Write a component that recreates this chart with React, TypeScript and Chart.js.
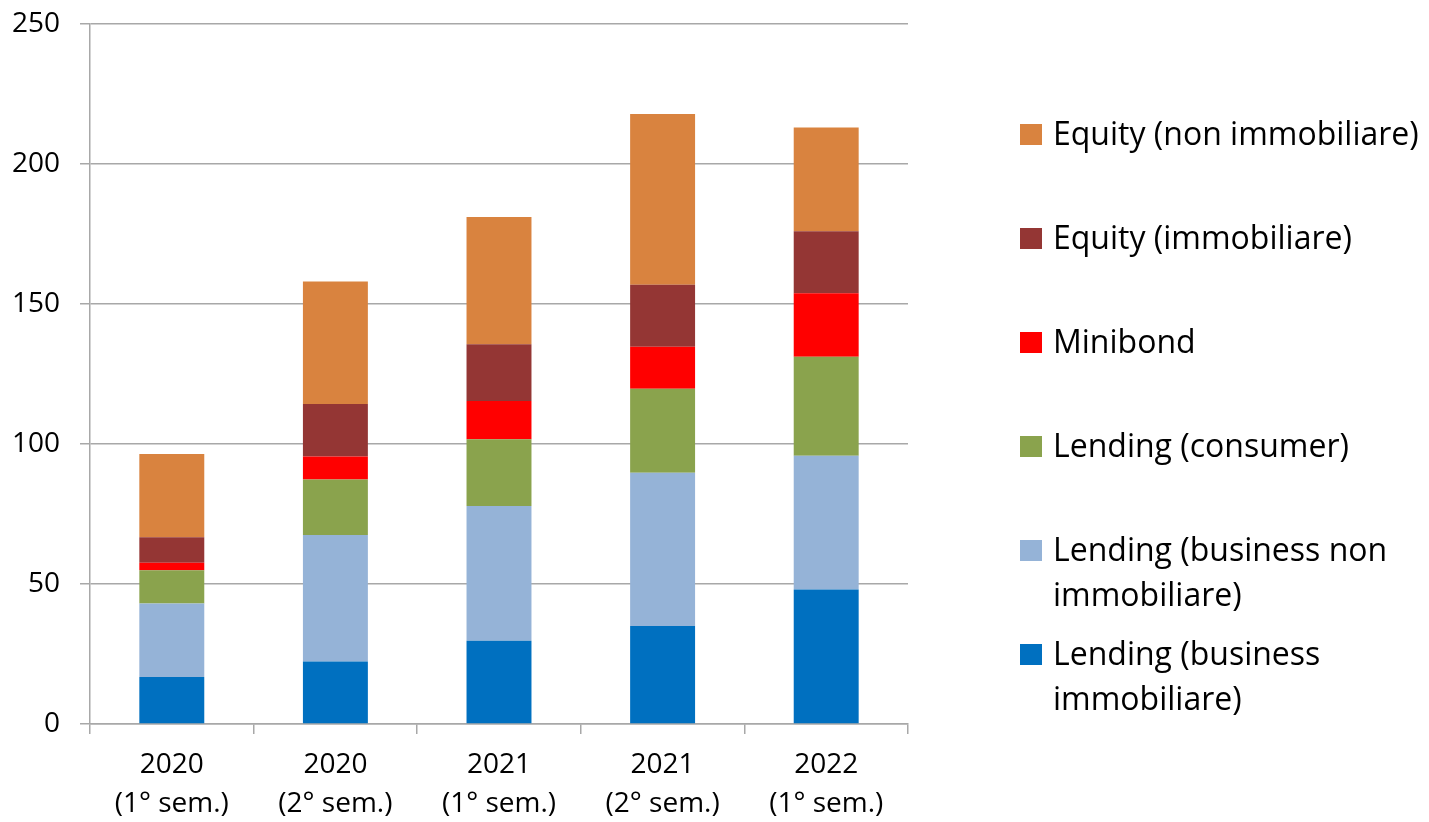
import React, { useEffect, useRef } from "react";
import { Chart, registerables } from "chart.js";

Chart.register(...registerables);

// ---- data ----
const categories: string[][] = [
  ["2020", "(1° sem.)"],
  ["2020", "(2° sem.)"],
  ["2021", "(1° sem.)"],
  ["2021", "(2° sem.)"],
  ["2022", "(1° sem.)"],
];

const lendingBusinessImmobiliare = [16.8, 22.3, 29.7, 35.0, 48.0];
const lendingBusinessNonImmobiliare = [26.2, 45.2, 48.2, 54.7, 47.8];
const lendingConsumer = [11.9, 19.8, 23.8, 30.0, 35.4];
const minibond = [2.7, 8.2, 13.7, 15.0, 22.6];
const equityImmobiliare = [9.1, 18.8, 20.2, 22.2, 22.2];
const equityNonImmobiliare = [29.7, 43.7, 45.5, 61.0, 37.0];

const seriesLabels: string[][] = [
  ["Lending (business", "immobiliare)"],
  ["Lending (business non", "immobiliare)"],
  ["Lending (consumer)"],
  ["Minibond"],
  ["Equity (immobiliare)"],
  ["Equity (non immobiliare)"],
];

const seriesValues = [
  lendingBusinessImmobiliare,
  lendingBusinessNonImmobiliare,
  lendingConsumer,
  minibond,
  equityImmobiliare,
  equityNonImmobiliare,
];

const seriesColors = ["#0070C0", "#95B3D7", "#8AA34D", "#FF0000", "#943634", "#D9833F"];

const yTicks = [0, 50, 100, 150, 200, 250];

const FONT = '"Open Sans", "Noto Sans", sans-serif';
const GRID = "#a8a8a8";

const sideLegend = {
  id: "sideLegend",
  afterDraw(chart: any) {
    const { ctx, chartArea } = chart;
    const ds = chart.data.datasets;
    ctx.save();
    ctx.font = `32px ${FONT}`;
    ctx.textAlign = "left";
    ctx.textBaseline = "alphabetic";
    const x0 = chartArea.right + 112;
    let base = chartArea.top + 121;
    for (let i = ds.length - 1; i >= 0; i--) {
      const lines = seriesLabels[i];
      ctx.fillStyle = ds[i].backgroundColor;
      ctx.fillRect(x0, base - 21, 22, 21);
      ctx.fillStyle = "#000";
      lines.forEach((l, j) => ctx.fillText(l, x0 + 33, base + j * 45));
      base += 104;
    }
    ctx.restore();
  },
};

export default function App() {
  const ref = useRef<HTMLCanvasElement | null>(null);

  useEffect(() => {
    document.body.style.margin = "0";
    const canvas = ref.current;
    if (!canvas) return;
    const chart = new Chart(canvas, {
      type: "bar",
      data: {
        labels: categories,
        datasets: seriesValues.map((vals, i) => ({
          label: seriesLabels[i].join(" "),
          data: vals,
          backgroundColor: seriesColors[i],
          borderWidth: 0,
          barPercentage: 0.397,
          categoryPercentage: 1,
        })),
      },
      options: {
        responsive: false,
        animation: false,
        devicePixelRatio: 1,
        layout: { padding: { top: 24, right: 521, bottom: 0, left: 0 } },
        plugins: {
          legend: { display: false },
          tooltip: { enabled: false },
        },
        scales: {
          x: {
            stacked: true,
            offset: true,
            grid: {
              display: true,
              drawOnChartArea: false,
              drawTicks: true,
              tickLength: 10,
              offset: true,
              color: GRID,
              lineWidth: 1.5,
            },
            border: { display: true, color: GRID, width: 1.5 },
            ticks: {
              color: "#000",
              font: { family: FONT, size: 28, lineHeight: 39 / 28 },
              padding: 12,
              autoSkip: false,
              maxRotation: 0,
              minRotation: 0,
            },
            afterFit: (s: any) => {
              s.height = 98;
              s.paddingLeft = 0;
              s.paddingRight = 0;
            },
          },
          y: {
            stacked: true,
            min: 0,
            max: 250,
            afterBuildTicks: (s: any) => {
              s.ticks = yTicks.map((v) => ({ value: v }));
            },
            grid: {
              color: GRID,
              lineWidth: 1.5,
              drawTicks: true,
              tickLength: 10,
            },
            border: { display: true, color: GRID, width: 1.5 },
            ticks: {
              color: "#000",
              font: { family: FONT, size: 28 },
              padding: 20,
            },
            afterFit: (s: any) => {
              s.width = 90;
              s.paddingTop = 0;
              s.paddingBottom = 0;
            },
          },
        },
      },
      plugins: [sideLegend],
    });
    return () => chart.destroy();
  }, []);

  return (
    <div style={{ width: 1429, height: 822, position: "relative", background: "#fff" }}>
      <canvas ref={ref} width={1429} height={822} style={{ display: "block" }} />
    </div>
  );
}
